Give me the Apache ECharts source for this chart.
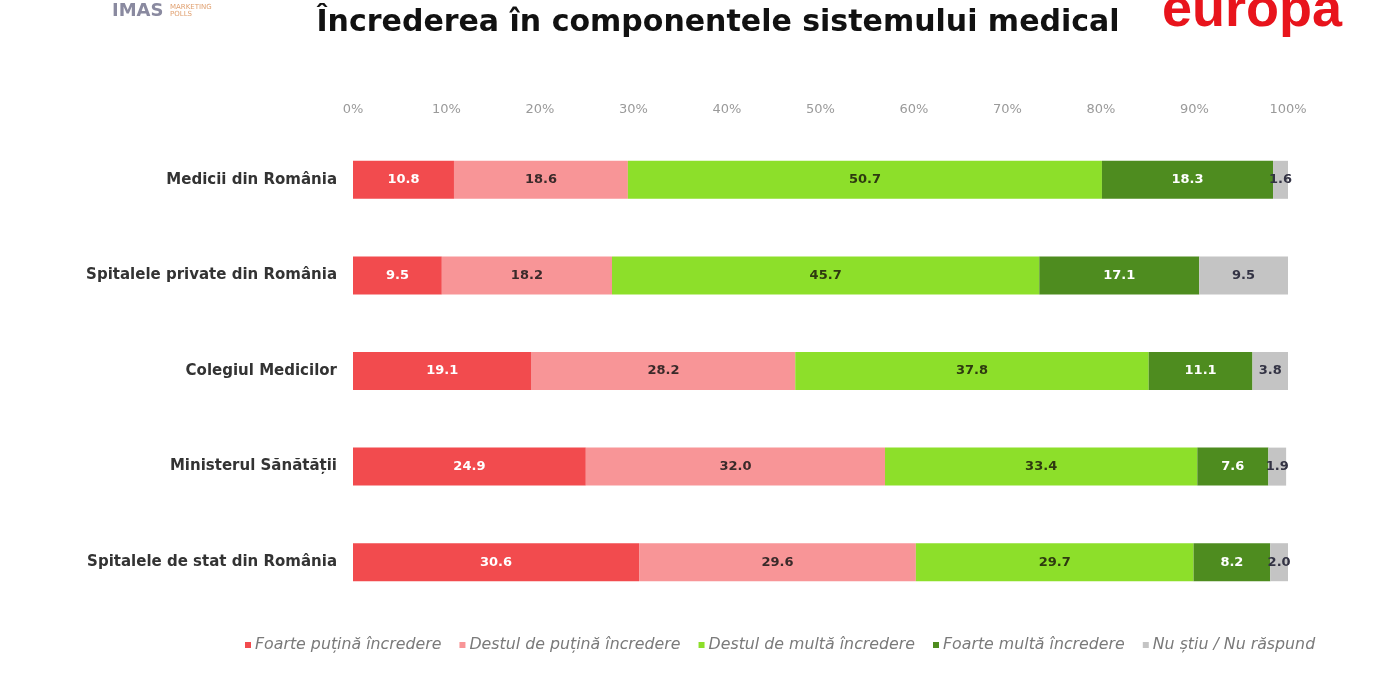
<!DOCTYPE html>
<html>
<head>
<meta charset="utf-8">
<script src="https://cdn.jsdelivr.net/npm/echarts@6/dist/echarts.min.js"></script>
<style>html,body{margin:0;padding:0;background:#fff;}#c{width:1400px;height:700px;}</style>
</head>
<body>
<div id="c"></div>
<script>
const categories = ["Medicii din România", "Spitalele private din România", "Colegiul Medicilor", "Ministerul Sănătății", "Spitalele de stat din România"];
const seriesNames = ["Foarte puțină încredere", "Destul de puțină încredere", "Destul de multă încredere", "Foarte multă încredere", "Nu știu / Nu răspund"];
const foartePutina = [10.8, 9.5, 19.1, 24.9, 30.6];
const destulPutina = [18.6, 18.2, 28.2, 32.0, 29.6];
const destulMulta = [50.7, 45.7, 37.8, 33.4, 29.7];
const foarteMulta = [18.3, 17.1, 11.1, 7.6, 8.2];
const nuStiu = [1.6, 9.5, 3.8, 1.9, 2.0];
const tickLabels = ["0%", "10%", "20%", "30%", "40%", "50%", "60%", "70%", "80%", "90%", "100%"];

const values = [foartePutina, destulPutina, destulMulta, foarteMulta, nuStiu];
const colors = ["#f24b4e", "#f89597", "#8ddf2a", "#4e8c1f", "#c4c4c4"];
const labelColors = ["#ffffff", "#3a2a2a", "#2e3a10", "#ffffff", "#333344"];

const chart = echarts.init(document.getElementById('c'));
chart.setOption({
  backgroundColor: '#ffffff',
  animation: false,
  title: {
    text: 'Încrederea în componentele sistemului medical',
    left: 713, top: 3, textAlign: 'center',
    textStyle: { fontFamily: 'DejaVu Sans', fontWeight: 'bold', fontSize: 30, color: '#111' }
  },
  graphic: [
    { type: 'text', left: 112, top: 2, style: { text: 'IMAS', font: 'bold 18px DejaVu Sans', fill: '#8a8aa0' } },
    { type: 'text', left: 170, top: 4, style: { text: 'MARKETING\nPOLLS', font: '7px DejaVu Sans', fill: '#e0a070' } },
    { type: 'text', left: 1162, top: -16, style: { text: 'europa', font: 'bold 54px Liberation Sans', fill: '#e8141c' } }
  ],
  legend: {
    bottom: 42, left: 240,
    itemWidth: 6, itemHeight: 6, itemGap: 18,
    icon: 'rect',
    textStyle: { fontFamily: 'DejaVu Sans', fontStyle: 'italic', fontSize: 15.8, color: '#7a7a7a', padding: [0, 0, 0, -1] },
    data: seriesNames
  },
  grid: { left: 353, right: 112, top: 132, height: 478, containLabel: false },
  xAxis: {
    type: 'value', position: 'top', min: 0, max: 100, interval: 10,
    axisLine: { show: false }, axisTick: { show: false }, splitLine: { show: false },
    axisLabel: { margin: 16, color: '#9a9a9a', fontSize: 13, fontFamily: 'DejaVu Sans',
      formatter: (v) => tickLabels[Math.round(v / 10)] }
  },
  yAxis: {
    type: 'category', inverse: true, data: categories,
    axisLine: { show: false }, axisTick: { show: false },
    axisLabel: { margin: 16, color: '#333', fontSize: 15, fontWeight: 'bold', fontFamily: 'DejaVu Sans' }
  },
  series: seriesNames.map((n, i) => ({
    name: n, type: 'bar', stack: 'total', barWidth: 38,
    data: values[i],
    itemStyle: { color: colors[i] },
    label: { show: true, position: 'inside', color: labelColors[i], fontWeight: 'bold', fontSize: 13,
      fontFamily: 'DejaVu Sans', formatter: (p) => p.value.toFixed(1) }
  }))
});
</script>
</body>
</html>
